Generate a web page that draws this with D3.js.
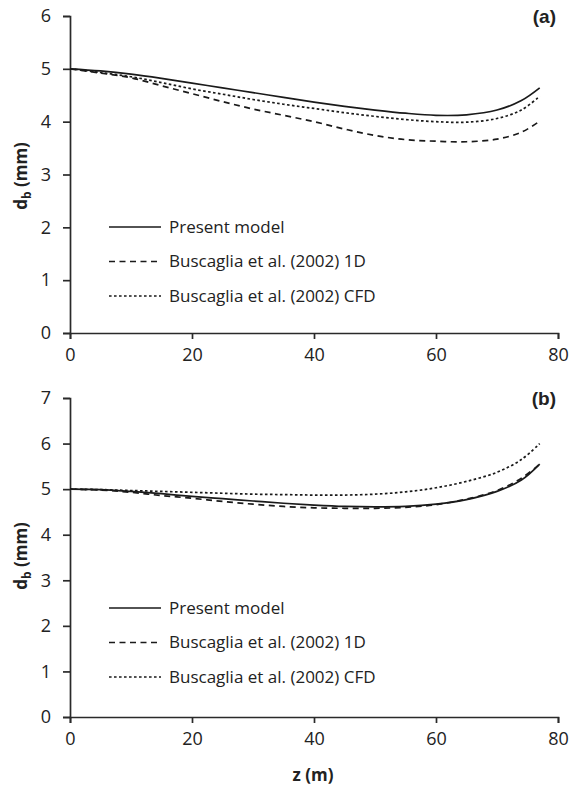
<!DOCTYPE html>
<html>
<head>
<meta charset="utf-8">
<script src="https://cdn.jsdelivr.net/npm/d3@7"></script>
<style>
  body { margin: 0; background: #fff; }
  svg { display: block; }
  text { font-family: "Open Sans", "Noto Sans", sans-serif; fill: #222; }
</style>
</head>
<body>
<svg id="chart" width="573" height="786"></svg>
<script>
// z positions (m) where curves were read
var zA = [0, 5, 10, 15, 20, 25, 30, 35, 40, 45, 50, 55, 60, 65, 70, 74, 77];
var presentA = [5.0, 4.96, 4.9, 4.82, 4.73, 4.64, 4.55, 4.46, 4.37, 4.29, 4.22, 4.16, 4.12, 4.13, 4.22, 4.4, 4.64];
var oneDA    = [5.0, 4.92, 4.83, 4.68, 4.53, 4.38, 4.24, 4.12, 4.0, 3.86, 3.74, 3.66, 3.63, 3.62, 3.67, 3.8, 4.01];
var cfdA     = [5.0, 4.93, 4.85, 4.74, 4.62, 4.52, 4.42, 4.33, 4.25, 4.17, 4.1, 4.04, 4.0, 3.99, 4.06, 4.22, 4.48];

var zB = [0, 5, 10, 15, 20, 25, 30, 35, 40, 45, 50, 55, 60, 65, 70, 74, 77];
var presentB = [5.0, 4.99, 4.95, 4.9, 4.84, 4.79, 4.74, 4.69, 4.65, 4.62, 4.61, 4.62, 4.67, 4.77, 4.95, 5.2, 5.55];
var oneDB    = [5.0, 4.98, 4.93, 4.86, 4.8, 4.73, 4.67, 4.62, 4.59, 4.58, 4.58, 4.6, 4.66, 4.78, 4.97, 5.24, 5.55];
var cfdB     = [5.0, 4.99, 4.97, 4.95, 4.93, 4.91, 4.89, 4.88, 4.87, 4.87, 4.89, 4.94, 5.03, 5.17, 5.37, 5.65, 6.0];

var legendLabels = ["Present model", "Buscaglia et al. (2002) 1D", "Buscaglia et al. (2002) CFD"];
var dashes = [null, "6,4.5", "2.6,2.4"];
var xTicks = [0, 20, 40, 60, 80];

var svg = d3.select("#chart");

function drawPanel(opts) {
  var x = d3.scaleLinear().domain([0, 80]).range([opts.left, opts.right]);
  var y = d3.scaleLinear().domain([0, opts.yMax]).range([opts.bottom, opts.top]);
  var g = svg.append("g");

  var xAxis = g.append("g")
    .attr("transform", "translate(0," + opts.bottom + ")")
    .call(d3.axisBottom(x).tickValues(xTicks).tickSize(6).tickPadding(9));
  var yAxis = g.append("g")
    .attr("transform", "translate(" + opts.left + ",0)")
    .call(d3.axisLeft(y).ticks(opts.yMax).tickSize(7).tickPadding(12));

  [xAxis, yAxis].forEach(function(a) {
    a.selectAll("path, line").attr("stroke", "#2a2a2a").attr("stroke-width", 1.7);
    a.selectAll("text").style("font-size", "18px").attr("fill", "#222")
      .style("font-family", "'Open Sans', sans-serif");
  });

  var line = d3.line()
    .curve(d3.curveCatmullRom)
    .x(function(d) { return x(d[0]); })
    .y(function(d) { return y(d[1]); });

  opts.series.forEach(function(s, i) {
    g.append("path")
      .datum(opts.z.map(function(z, k) { return [z, s[k]]; }))
      .attr("fill", "none")
      .attr("stroke", "#1a1a1a")
      .attr("stroke-width", 1.7)
      .attr("stroke-dasharray", dashes[i])
      .attr("d", line);
  });

  legendLabels.forEach(function(lbl, i) {
    var ly = opts.legendY + i * 34.5;
    g.append("line")
      .attr("x1", opts.left + 39).attr("x2", opts.left + 91)
      .attr("y1", ly).attr("y2", ly)
      .attr("stroke", "#1a1a1a").attr("stroke-width", 1.7)
      .attr("stroke-dasharray", dashes[i]);
    g.append("text")
      .attr("x", opts.left + 99).attr("y", ly)
      .attr("dy", "0.35em")
      .style("font-size", "17px")
      .text(lbl);
  });

  g.append("text")
    .attr("x", 556).attr("y", opts.top + 7)
    .attr("text-anchor", "end")
    .style("font-family", "'Liberation Sans', Arial, sans-serif")
    .style("font-weight", "bold")
    .style("font-size", "19px")
    .attr("fill", "#111")
    .text(opts.tag);

  var yl = g.append("text")
    .attr("transform", "translate(27," + opts.labelY + ") rotate(-90)")
    .attr("text-anchor", "middle")
    .style("font-weight", "bold")
    .style("font-size", "17px");
  yl.append("tspan").text("d");
  yl.append("tspan").attr("dy", 4).style("font-size", "12px").text("b");
  yl.append("tspan").attr("dy", -4).text(" (mm)");
}

drawPanel({
  left: 70, right: 558, top: 16, bottom: 333, yMax: 6,
  z: zA, series: [presentA, oneDA, cfdA],
  legendY: 227, tag: "(a)", labelY: 176
});

drawPanel({
  left: 70, right: 558, top: 398, bottom: 717, yMax: 7,
  z: zB, series: [presentB, oneDB, cfdB],
  legendY: 608, tag: "(b)", labelY: 556
});

svg.append("text")
  .attr("x", 313).attr("y", 781)
  .attr("text-anchor", "middle")
  .style("font-weight", "bold")
  .style("font-size", "17px")
  .text("z (m)");
</script>
</body>
</html>
